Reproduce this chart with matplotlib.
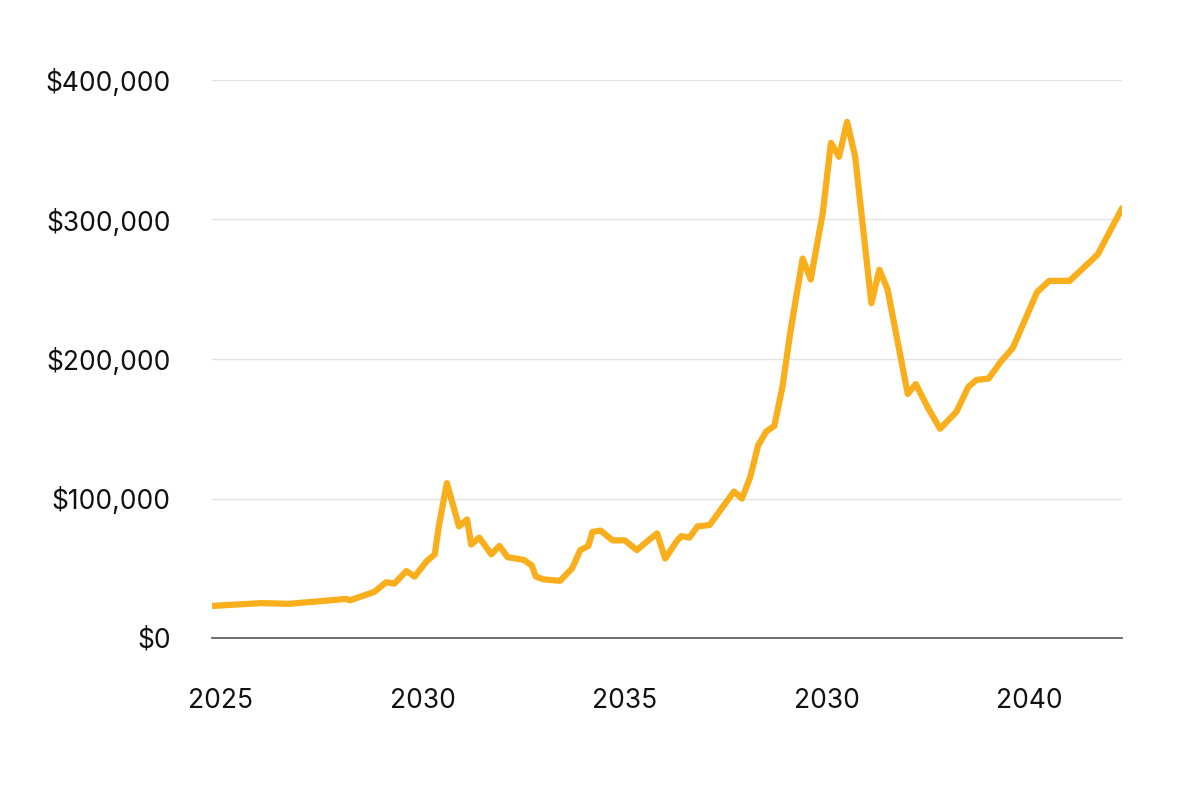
import matplotlib
matplotlib.use("Agg")
import matplotlib.pyplot as plt
from matplotlib.ticker import FuncFormatter

plt.rcParams['font.family'] = ['Inter', 'DejaVu Sans']

years = [2024.8, 2026.0, 2026.7, 2027.7, 2028.1, 2028.2, 2028.5, 2028.8, 2029.1, 2029.3,
         2029.6, 2029.8, 2030.1, 2030.3, 2030.4, 2030.6, 2030.9, 2031.1, 2031.2, 2031.4,
         2031.7, 2031.9, 2032.1, 2032.5, 2032.7, 2032.8, 2033.0, 2033.4, 2033.7, 2033.9,
         2034.1, 2034.2, 2034.4, 2034.7, 2035.0, 2035.3, 2035.5, 2035.8, 2036.0, 2036.3,
         2036.4, 2036.6, 2036.8, 2037.1, 2037.5, 2037.7, 2037.9, 2038.1, 2038.3, 2038.5,
         2038.7, 2038.9, 2039.1, 2039.4, 2039.6, 2039.9, 2040.1, 2040.3, 2040.5, 2040.7,
         2041.1, 2041.3, 2041.5, 2042.0, 2042.2, 2042.5, 2042.8, 2043.2, 2043.5, 2043.7,
         2044.0, 2044.3, 2044.6, 2045.2, 2045.5, 2046.0, 2046.3, 2046.7, 2047.3]
values = [23, 25, 24.5, 27, 28, 27, 30, 33, 40, 39,
          48, 44, 55, 60, 80, 111, 80, 85, 67, 72,
          60, 66, 58, 56, 52, 44, 42, 41, 50, 63,
          66, 76, 77, 70, 70, 63, 68, 75, 57, 70,
          73, 72, 80, 81, 97, 105, 100, 115, 138, 148,
          152, 180, 220, 272, 257, 305, 355, 345, 370, 345,
          240, 264, 250, 175, 182, 165, 150, 162, 180, 185,
          186, 198, 208, 248, 256, 256, 264, 275, 308]
values = [v * 1000 for v in values]

tick_pos = [2025, 2030, 2035, 2040, 2045]
tick_labels = ["2025", "2030", "2035", "2030", "2040"]
y_ticks = [0, 100000, 200000, 300000, 400000]

fig = plt.figure(figsize=(12, 8), dpi=100)
ax = fig.add_axes([0.177, 0.2025, 0.758, 0.6975])
ax.plot(years, values, color="#F9AE1B", lw=4.5, solid_joinstyle="round", solid_capstyle="round")
ax.set_xlim(2024.8, 2047.3)
ax.set_ylim(0, 400000)
ax.set_yticks(y_ticks)
ax.yaxis.set_major_formatter(FuncFormatter(lambda v, p: f"${int(v):,}"))
ax.set_xticks(tick_pos)
ax.set_xticklabels(tick_labels)
ax.grid(axis="y", color="#e3e3e3", lw=1)
ax.set_axisbelow(True)
for s in ["top", "right", "left"]:
    ax.spines[s].set_visible(False)
ax.spines["bottom"].set_color("#555555")
ax.spines["bottom"].set_linewidth(1.2)
ax.tick_params(axis="both", length=0, labelsize=19, colors="#111111")
ax.tick_params(axis="x", pad=36)
ax.tick_params(axis="y", pad=30)
fig.savefig("out.png")
